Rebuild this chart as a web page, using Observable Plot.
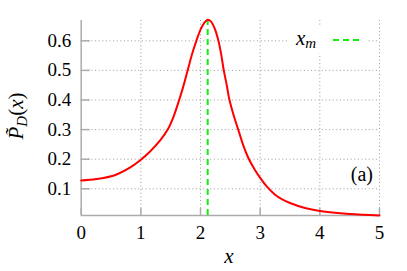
<!DOCTYPE html>
<html>
<head>
<meta charset="utf-8">
<script src="https://cdn.jsdelivr.net/npm/d3@7"></script>
<script src="https://cdn.jsdelivr.net/npm/@observablehq/plot@0.6"></script>
<style>
  html, body { margin: 0; padding: 0; background: white; font-family: "Liberation Serif"; }
  #chart { position: relative; width: 407px; height: 271px; }
  #overlay { position: absolute; left: 0; top: 0; z-index: 2; }
  #chart svg text { font-family: "Liberation Serif"; font-variant: normal; }
</style>
</head>
<body>
<div id="chart">
<svg id="overlay" width="407" height="271" font-family="Liberation Serif" fill="black">
  <rect x="288" y="27" width="78" height="26" fill="white"></rect>
  <text x="296" y="45" font-size="21"><tspan font-style="italic">x</tspan><tspan font-style="italic" font-size="15" dy="3">m</tspan></text>
  <line x1="333" x2="361" y1="40" y2="40" stroke="#11ee11" stroke-width="2" stroke-dasharray="6,4"></line>
  <text x="373" y="181" text-anchor="end" font-size="20">(a)</text>
  <text x="229" y="263" text-anchor="middle" font-size="21" font-style="italic">x</text>
  <text transform="translate(23,116) rotate(-90)" text-anchor="middle" font-size="21"><tspan font-style="italic">P&#771;</tspan><tspan font-style="italic" font-size="15" dy="4">D</tspan><tspan dy="-4">(</tspan><tspan font-style="italic">x</tspan><tspan>)</tspan></text>
</svg>
</div>
<script>
// ---- data ----
const xs = [0, 0.25, 0.55, 0.83, 1.0, 1.15, 1.33, 1.45, 1.55, 1.65, 1.72, 1.78, 1.86, 1.93, 2.0, 2.06, 2.12, 2.18, 2.24, 2.3, 2.35, 2.39, 2.44, 2.48, 2.56, 2.64, 2.72, 2.80, 2.9, 3.0, 3.11, 3.25, 3.37, 3.5, 3.75, 4.0, 4.5, 5.0];
const ys = [0.128, 0.133, 0.145, 0.173, 0.198, 0.225, 0.265, 0.300, 0.345, 0.405, 0.452, 0.497, 0.556, 0.600, 0.638, 0.660, 0.671, 0.664, 0.640, 0.600, 0.550, 0.500, 0.450, 0.405, 0.345, 0.295, 0.245, 0.205, 0.168, 0.137, 0.108, 0.080, 0.064, 0.052, 0.035, 0.025, 0.015, 0.010];
const xm = 2.12;
const xTicks = [0, 1, 2, 3, 4, 5];
const xGridTicks = [1, 2, 3, 4, 5];
const yTicks = [0.1, 0.2, 0.3, 0.4, 0.5, 0.6];
const yDomain = [0.0098, 0.6686];

const curve = xs.map((x, i) => ({x, y: ys[i]}));
const peak = d3.max(ys);

const FONT = "Liberation Serif";
const gridStyle = {stroke: "#9a9a9a", strokeOpacity: 1, strokeWidth: 1, strokeDasharray: "1,2.6"};
const axisGray = "#ababab";

const plot = Plot.plot({
  width: 407,
  height: 271,
  marginLeft: 80.7,
  marginRight: 28,
  marginTop: 20,
  marginBottom: 56,
  x: {domain: [0, 5]},
  y: {domain: yDomain},
  style: {fontFamily: FONT, fontSize: "19px", color: "black", background: "white", overflow: "visible"},
  marks: [
    Plot.gridX(xGridTicks, gridStyle),
    Plot.gridY(yTicks, gridStyle),
    Plot.axisX(xTicks, {tickSize: -7, stroke: axisGray, strokeWidth: 1.5, text: null, label: null}),
    Plot.axisY(yTicks, {tickSize: -9, stroke: axisGray, strokeWidth: 1.5, text: null, label: null}),
    Plot.axisX(xTicks, {tickSize: 0, tickPadding: 10, label: null, tickFormat: d => String(d), fill: "black", fontSize: 19, fontFamily: FONT}),
    Plot.axisY(yTicks, {tickSize: 0, tickPadding: 10, label: null, tickFormat: d => d.toFixed(1), fill: "black", fontSize: 19, fontFamily: FONT}),
    Plot.ruleX([0], {stroke: axisGray, strokeWidth: 1.5}),
    Plot.ruleY([yDomain[0]], {stroke: axisGray, strokeWidth: 1.5}),
    Plot.ruleX([xm], {y1: yDomain[0], y2: peak, stroke: "#11ee11", strokeWidth: 2, strokeDasharray: "6,4"}),
    Plot.line(curve, {x: "x", y: "y", stroke: "#ff0000", strokeWidth: 2, curve: "catmull-rom"})
  ]
});

const chart = document.getElementById("chart");
chart.insertBefore(plot, chart.firstChild);
plot.setAttribute("font-family", FONT);
plot.querySelectorAll("[font-variant]").forEach(el => el.removeAttribute("font-variant"));
plot.querySelectorAll("text").forEach(t => t.setAttribute("font-family", FONT));
</script>
</body>
</html>
